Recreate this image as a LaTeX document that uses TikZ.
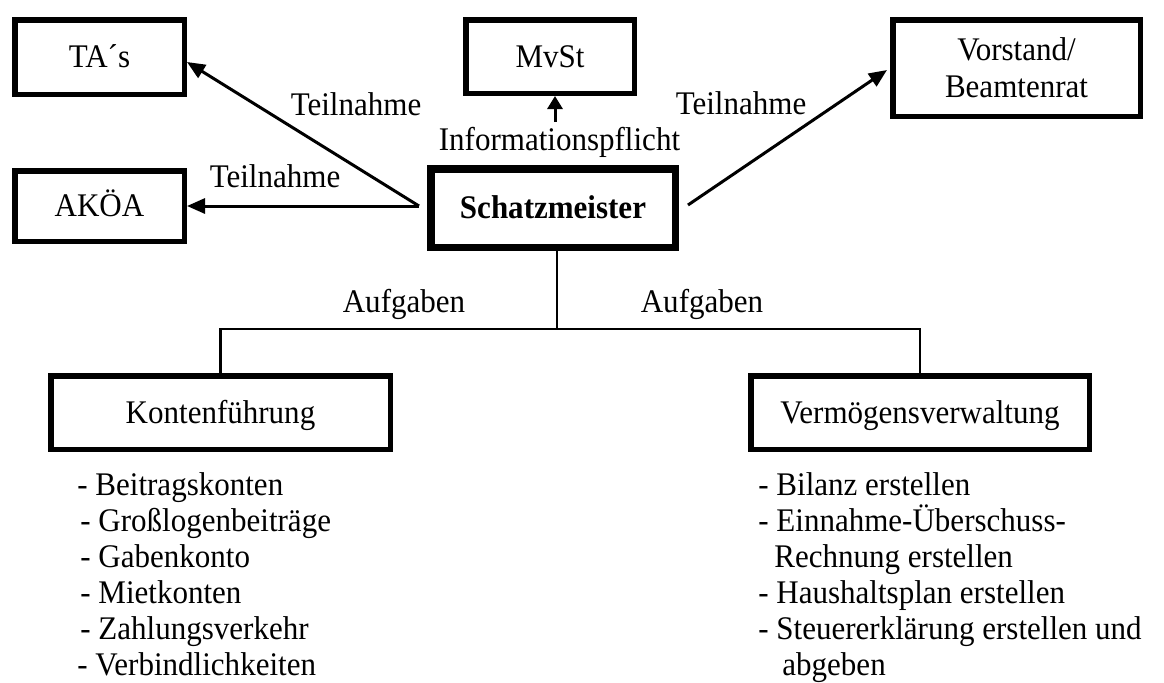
\documentclass[tikz,border=0pt]{standalone}
\usepackage{fontspec}
\setmainfont{Liberation Serif}[FakeStretch=0.94]
\usetikzlibrary{arrows.meta}

\tikzset{
  unit/.style={x=0.5pt,y=-0.5pt},
  txt/.style={font=\fontsize{16.5pt}{18.3pt}\selectfont},
  frame/.style={draw,line width=2.75pt,inner sep=0pt,align=center,txt},
  oneline/.style={frame,text height=10.8pt,text depth=0pt},
  mainbox/.style={oneline,line width=3.75pt,font=\fontsize{16.5pt}{18.3pt}\selectfont\bfseries},
  lbl/.style={anchor=base,inner sep=0pt,txt},
  item/.style={anchor=base west,inner sep=0pt,txt},
  arr/.style={line width=1.5pt,-{Triangle[length=9pt,width=7.5pt]}},
  tree/.style={line width=1.2pt}
}

\begin{document}
\begin{tikzpicture}[unit]
\useasboundingbox (0,0) rectangle (1164,682);

% boxes
\node[oneline,minimum width=84.75pt,minimum height=37.25pt] (ta) at (99.5,57) {TA´s};
\node[oneline,minimum width=84.75pt,minimum height=35.25pt] (ak) at (99.5,206) {AKÖA};
\node[oneline,minimum width=84.25pt,minimum height=36.75pt] (mv) at (550,56.5) {MvSt};
\node[mainbox,minimum width=122.25pt,minimum height=39.25pt] (sm) at (553,208) {Schatzmeister};
\node[frame,minimum width=123.75pt,minimum height=48.25pt] (vo) at (1016.5,68) {Vorstand/\\Beamtenrat};
\node[oneline,minimum width=169.75pt,minimum height=36.75pt] (kf) at (220.5,412.5) {Kontenführung};
\node[oneline,minimum width=169.25pt,minimum height=36.75pt] (vv) at (920,412.5) {Vermögensverwaltung};

% arrow tails
\coordinate (sl) at (419,206);
\coordinate (sr) at (688,205);
\coordinate (inf) at (555,122);
\coordinate (fork) at (557,329);

% participation arrows
\draw[arr] (sl) -- ([yshift=-2.5pt]ta.east);
\draw[arr] (sl) -- (ak.east);
\draw[arr] (sr) -- ([xshift=-1.5pt,yshift=-1pt]vo.west);
\draw[line width=1.5pt,-{Triangle[length=6.5pt,width=7.5pt]}] (inf) -- (mv.south -| inf);

% task tree
\draw[tree] (sm.south -| fork) -- (fork);
\draw[tree] (kf.north) |- (fork) -| (vv.north);

% connector labels
\node[lbl] (l1) at (356,115) {Teilnahme};
\node[lbl] (l2) at (275,187) {Teilnahme};
\node[lbl] (l3) at (741,114) {Teilnahme};
\node[lbl] (l4) at (559.5,150) {Informationspflicht};
\node[lbl] (l5) at (404,312) {Aufgaben};
\node[lbl] (l6) at (702,312) {Aufgaben};

% account list
\node[item] (a1) at (77,495) {- Beitragskonten};
\node[item] (a2) at (80,531.5) {- Großlogenbeiträge};
\node[item] (a3) at (80,567.5) {- Gabenkonto};
\node[item] (a4) at (80,603.5) {- Mietkonten};
\node[item] (a5) at (80,639.5) {- Zahlungsverkehr};
\node[item] (a6) at (77,675) {- Verbindlichkeiten};

% asset list
\node[item] (b1) at (758,495) {- Bilanz erstellen};
\node[item] (b2) at (758,531.5) {- Einnahme-Überschuss-};
\node[item] (b3) at (774,567.5) {Rechnung erstellen};
\node[item] (b4) at (758,603.5) {- Haushaltsplan erstellen};
\node[item] (b5) at (758,639.5) {- Steuererklärung erstellen und};
\node[item] (b6) at (782,675) {abgeben};
\end{tikzpicture}
\end{document}
